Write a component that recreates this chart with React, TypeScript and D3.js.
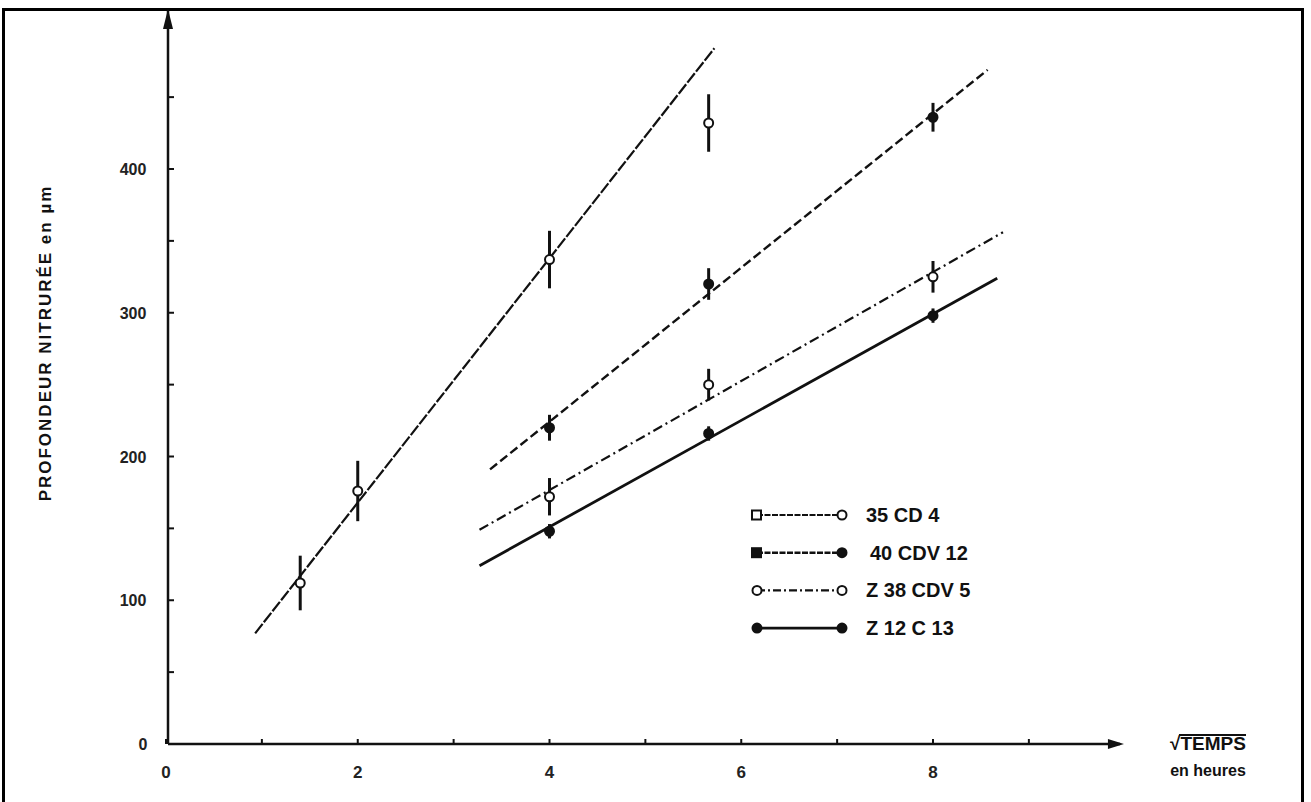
import React from 'react';
import * as d3 from 'd3';

const seriesNames = ['35 CD 4', '40 CDV 12', 'Z 38 CDV 5', 'Z 12 C 13'];

const cd4X = [1.4, 2, 4, 5.66];
const cd4Y = [112, 176, 337, 432];
const cd4Err = [19, 21, 20, 20];

const cdv12X = [4, 5.66, 8];
const cdv12Y = [220, 320, 436];
const cdv12Err = [9, 11, 10];

const z38X = [4, 5.66, 8];
const z38Y = [172, 250, 325];
const z38Err = [13, 11, 11];

const z12X = [4, 5.66, 8];
const z12Y = [148, 216, 298];
const z12Err = [5, 5, 5];

// fitted lines (start / end)
const fitX = [[0.93, 5.72], [3.38, 8.57], [3.27, 8.73], [3.27, 8.67]];
const fitY = [[77, 484], [191, 469], [149, 356], [124, 324]];

const xTicks = [0, 2, 4, 6, 8];
const xMinor = [1, 3, 5, 7, 9];
const yTicks = [100, 200, 300, 400];
const yMinor = [50, 150, 250, 350, 450];

const W = 1311;
const H = 802;
const font = '"Liberation Sans", Arial, sans-serif';

const dashes = ['12 2', '9 4', '10 4 2 4', null];
const widths = [2.2, 2.4, 2.2, 2.8];

export default function App() {
  const x = d3.scaleLinear().domain([0, 8]).range([166, 933]);
  const y = d3.scaleLinear().domain([0, 400]).range([744, 169]);
  const line = d3.line<[number, number]>().x(d => x(d[0])).y(d => y(d[1]));

  const pts = [
    { xs: cd4X, ys: cd4Y, err: cd4Err, filled: false },
    { xs: cdv12X, ys: cdv12Y, err: cdv12Err, filled: true },
    { xs: z38X, ys: z38Y, err: z38Err, filled: false },
    { xs: z12X, ys: z12Y, err: z12Err, filled: true },
  ];

  const x0 = x(0) + 2;
  const y0 = y(0);
  const xEnd = x(9.95);
  const yTop = y(510);

  return (
    <svg width={W} height={H} style={{ position: 'absolute', left: 0, top: 0, background: '#fff' }}
      fontFamily={font}>
      <rect x={3.5} y={9.5} width={1299} height={800} fill="none" stroke="#000" strokeWidth={3} />

      {/* axes */}
      <line x1={x0} y1={y0} x2={xEnd} y2={y0} stroke="#111" strokeWidth={2.5} />
      <line x1={x0} y1={y0} x2={x0} y2={yTop} stroke="#111" strokeWidth={2.5} />
      <path d={`M${xEnd + 4},${y0} L${xEnd - 12},${y0 - 5} L${xEnd - 12},${y0 + 5}Z`} fill="#111" />
      <path d={`M${x0},${yTop - 2} L${x0 - 5},${yTop + 18} L${x0 + 5},${yTop + 18}Z`} fill="#111" />

      {xTicks.concat(xMinor).map(t => (
        <line key={'xt' + t} x1={x(t)} x2={x(t)} y1={y0} y2={y0 - 5} stroke="#111" strokeWidth={2} />
      ))}
      {yTicks.concat(yMinor).map(t => (
        <line key={'yt' + t} x1={x0} x2={x0 + 6} y1={y(t)} y2={y(t)} stroke="#111" strokeWidth={2} />
      ))}
      {xTicks.map(t => (
        <text key={'xl' + t} x={x(t)} y={y0 + 34} textAnchor="middle" fontSize={17} fontWeight="bold" fill="#222">{t}</text>
      ))}
      {yTicks.map(t => (
        <text key={'yl' + t} x={133} y={y(t) + 6} textAnchor="middle" fontSize={16} fontWeight="bold" fill="#222">{t}</text>
      ))}
      <text x={143} y={y0 + 6} textAnchor="middle" fontSize={16} fontWeight="bold" fill="#222">0</text>

      {/* axis titles */}
      <text transform="translate(51,343) rotate(-90)" textAnchor="middle" fontSize={17} fontWeight="bold"
        letterSpacing={2} fill="#111">PROFONDEUR  NITRURÉE  en µm</text>
      <text x={1208} y={750} textAnchor="middle" fontSize={19} fontWeight="bold" fill="#111">√TEMPS</text>
      <line x1={1179} x2={1246} y1={735} y2={735} stroke="#111" strokeWidth={2} />
      <text x={1208} y={776} textAnchor="middle" fontSize={16} fontWeight="bold" fill="#111">en heures</text>

      {/* fitted lines */}
      {fitX.map((fx, i) => (
        <path key={'fit' + i}
          d={line([[fx[0], fitY[i][0]], [fx[1], fitY[i][1]]]) || ''}
          fill="none" stroke="#111" strokeWidth={widths[i]}
          strokeDasharray={dashes[i] || undefined} />
      ))}

      {/* points with error bars */}
      {pts.map((s, i) => (
        <g key={'s' + i}>
          {s.xs.map((v, j) => (
            <g key={j}>
              <line x1={x(v)} x2={x(v)} y1={y(s.ys[j] - s.err[j])} y2={y(s.ys[j] + s.err[j])}
                stroke="#111" strokeWidth={3} />
              <circle cx={x(v)} cy={y(s.ys[j])} r={4.5}
                fill={s.filled ? '#111' : '#fff'} stroke="#111" strokeWidth={2} />
            </g>
          ))}
        </g>
      ))}

      {/* legend */}
      {seriesNames.map((name, i) => {
        const ly = 515 + i * 37.7;
        const lx0 = 757;
        const lx1 = 842;
        const squareLeft = i < 2;
        const filled = i === 1 || i === 3;
        return (
          <g key={'lg' + i}>
            <line x1={lx0} x2={lx1} y1={ly} y2={ly} stroke="#111" strokeWidth={widths[i]}
              strokeDasharray={i === 2 ? '8 3 2 3' : i === 3 ? undefined : '6 1.5'} />
            {squareLeft ? (
              <rect x={lx0 - 5} y={ly - 4.5} width={9} height={9} fill={filled ? '#111' : '#fff'} stroke="#111" strokeWidth={2} />
            ) : (
              <circle cx={lx0} cy={ly} r={4.5} fill={filled ? '#111' : '#fff'} stroke="#111" strokeWidth={2} />
            )}
            <circle cx={lx1} cy={ly} r={4.5} fill={filled ? '#111' : '#fff'} stroke="#111" strokeWidth={2} />
            <text x={866 + (i === 1 ? 4 : 0)} y={ly + 7} fontSize={20} fontWeight="bold" fill="#111">{name}</text>
          </g>
        );
      })}
    </svg>
  );
}
